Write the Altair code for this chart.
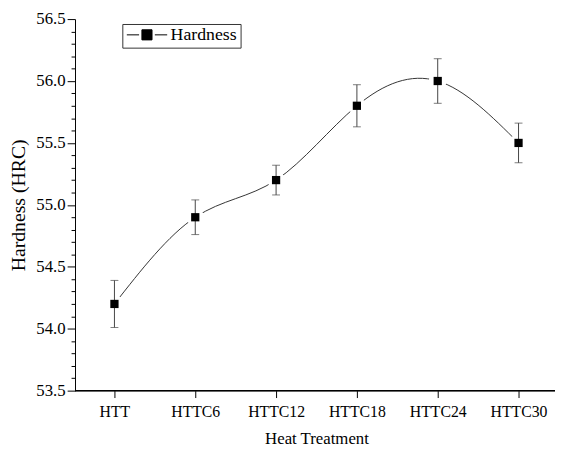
import altair as alt
import pandas as pd

categories = ["HTT", "HTTC6", "HTTC12", "HTTC18", "HTTC24", "HTTC30"]
hardness = [54.2, 54.9, 55.2, 55.8, 56.0, 55.5]
errors = [0.19, 0.14, 0.12, 0.17, 0.18, 0.16]
series_name = "Hardness"
y_major = [53.5, 54.0, 54.5, 55.0, 55.5, 56.0, 56.5]
y_minor = [53.6, 53.7, 53.8, 53.9, 54.1, 54.2, 54.3, 54.4,
           54.6, 54.7, 54.8, 54.9, 55.1, 55.2, 55.3, 55.4,
           55.6, 55.7, 55.8, 55.9, 56.1, 56.2, 56.3, 56.4]

df = pd.DataFrame({"treatment": categories, "hardness": hardness, "err": errors})
df["lo"] = df["hardness"] - df["err"]
df["hi"] = df["hardness"] + df["err"]
df["series"] = series_name

FONT = "Liberation Serif"
W, H = 487, 377

x_enc = alt.X(
    "treatment:N",
    sort=categories,
    scale=alt.Scale(type="point", range=[40, 450], padding=0),
    axis=alt.Axis(title="Heat Treatment", labelAngle=0, domain=False, tickSize=7,
                  labelPadding=6, titlePadding=12, labelFontSize=16, titleFontSize=17,
                  titleFontWeight="normal"),
)
yscale = alt.Scale(domain=[53.5, 56.5], nice=False, zero=False)

main_axis = alt.Axis(title="Hardness (HRC)", values=y_major, format=".1f", tickSize=8,
                     labelPadding=2, labelFontSize=17, titleFontSize=20,
                     titleFontWeight="normal", titlePadding=7, orient="left")
minor_axis = alt.Axis(title=None, values=y_minor, labels=False, domain=False, tickSize=4,
                      orient="left")

base = alt.Chart(df)

line = base.mark_line(interpolate="natural", color="#333333", strokeWidth=1).encode(
    x=x_enc, y=alt.Y("hardness:Q", scale=yscale, axis=main_axis)
)
halo = base.mark_point(shape="circle", filled=True, color="white", size=330, opacity=1).encode(
    x=x_enc, y=alt.Y("hardness:Q", scale=yscale, axis=minor_axis)
)
err_rule = base.mark_rule(color="#444444", strokeWidth=1).encode(
    x=x_enc, y=alt.Y("lo:Q", scale=yscale, axis=None), y2="hi:Q"
)
cap_lo = base.mark_tick(color="#444444", thickness=1, size=8).encode(
    x=x_enc, y=alt.Y("lo:Q", scale=yscale, axis=None)
)
cap_hi = base.mark_tick(color="#444444", thickness=1, size=8).encode(
    x=x_enc, y=alt.Y("hi:Q", scale=yscale, axis=None)
)
legend_path = "M-1,0H-0.39M0.39,0H1M-0.25,-0.25H0.25V0.25H-0.25Z"
squares = base.mark_point(shape="square", filled=True, size=70, opacity=1).encode(
    x=x_enc,
    y=alt.Y("hardness:Q", scale=yscale, axis=None),
    color=alt.Color(
        "series:N",
        scale=alt.Scale(range=["black"]),
        legend=alt.Legend(title=None, orient="none", legendX=48, legendY=5,
                          symbolType=legend_path, symbolSize=1681, symbolStrokeWidth=1,
                          symbolStrokeColor="black", symbolFillColor="black",
                          clipHeight=14, padding=4, strokeColor="#333333",
                          labelFontSize=18, labelOffset=3, labelColor="black",
                          labelFont=FONT),
    ),
)
xline = alt.Chart(df).mark_rule(color="black", strokeWidth=1).encode(
    x=alt.value(0), x2=alt.value(W), y=alt.value(H)
)

chart = (
    alt.layer(line, halo, err_rule, cap_lo, cap_hi, squares, xline)
    .resolve_axis(y="independent")
    .properties(width=W, height=H, autosize=alt.AutoSizeParams(type="none"),
                padding={"left": 68, "top": 8, "right": 0, "bottom": 58})
    .configure_view(stroke=None)
    .configure_axis(labelFont=FONT, titleFont=FONT, labelColor="black", titleColor="black",
                    domainColor="black", tickColor="black", grid=False)
)

chart.save("out.html", embed_options={"renderer": "svg", "actions": False})
